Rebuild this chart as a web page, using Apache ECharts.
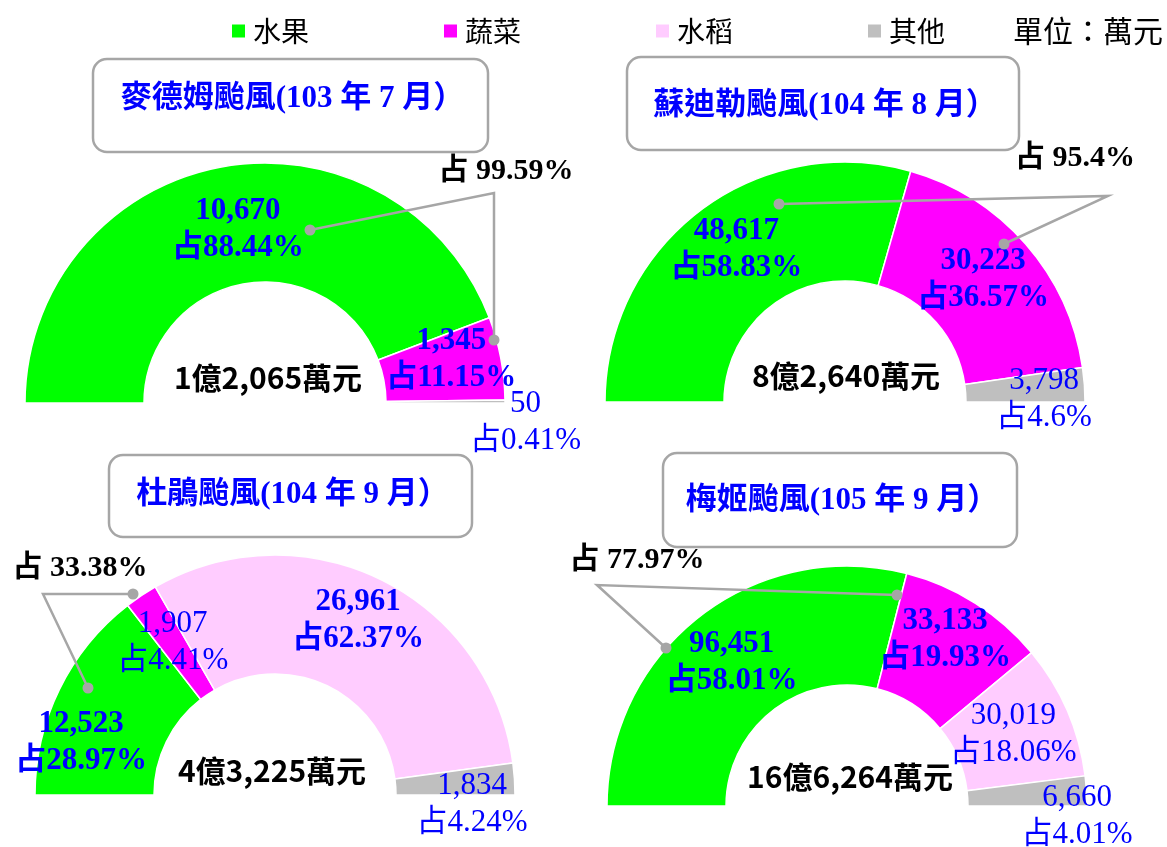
<!DOCTYPE html>
<html>
<head>
<meta charset="utf-8">
<script src="https://cdn.jsdelivr.net/npm/echarts@6/dist/echarts.min.js"></script>
<style>
  html, body { margin: 0; background: #fff; }
  #main { width: 1167px; height: 847px; }
</style>
</head>
<body>
<div id="main"></div>
<script>
// 各颱風農業損失（萬元）
const categories = ['水果', '蔬菜', '水稻', '其他']
const typhoons = ['麥德姆颱風(103 年 7 月）', '蘇迪勒颱風(104 年 8 月）', '杜鵑颱風(104 年 9 月）', '梅姬颱風(105 年 9 月）']
const fruit = [10670, 48617, 12523, 96451]
const veg = [1345, 30223, 1907, 33133]
const rice = [0, 0, 26961, 30019]
const other = [50, 3798, 1834, 6660]
const fruitPct = ['88.44', '58.83', '28.97', '58.01']
const vegPct = ['11.15', '36.57', '4.41', '19.93']
const ricePct = ['', '', '62.37', '18.06']
const otherPct = ['0.41', '4.6', '4.24', '4.01']
const totals = ['1億2,065萬元', '8億2,640萬元', '4億3,225萬元', '16億6,264萬元']
const shares = ['占 99.59%', '占 95.4%', '占 33.38%', '占 77.97%']

const colors = ['#00FF00', '#FF00FF', '#FFCCFF', '#BFBFBF']
const serif = "'Liberation Serif', 'Noto Sans CJK TC', serif"
const cjk = "'Noto Sans CJK TC', sans-serif"

// layout of the four half donuts
const centers = [[265, 403], [845, 402], [275, 795], [847, 806]]
const radius = [121, 240]
// label nudges: [fruit, veg, rice, other]
const labelShift = [
  [[6, 7], [6, -9], null, [77, 21]],
  [[2, -6], [0, -2], null, [16, 11]],
  [[-29, 28], [0, 0], [2, -10], [14, 22]],
  [[-3, 1], [0, -12], [-2, 1], [47, 22]]
]
// bold labels for the big slices
const labelBold = [
  [true, true, false, false],
  [true, true, false, false],
  [true, false, true, false],
  [true, true, false, false]
]
const titleBoxes = [[93, 59, 395, 93, 99], [627, 57, 392, 93, 106], [109, 455, 363, 82, 495], [663, 453, 354, 94, 501]]
const totalPos = [[268, 378], [846, 376], [272, 771], [850, 777]]
const sharePos = [[506, 171], [1075, 158], [80, 568], [637, 560]]
const leaders = [
  [[310, 230], [494, 193], [494, 340]],
  [[779, 204], [1108, 196], [1004, 244]],
  [[133, 594], [43, 594], [88, 688]],
  [[897, 595], [597, 585], [666, 648]]
]

const fmt = v => v.toLocaleString('en-US')

const series = typhoons.map((name, i) => {
  const vals = [fruit[i], veg[i], rice[i], other[i]]
  const pcts = [fruitPct[i], vegPct[i], ricePct[i], otherPct[i]]
  const data = []
  vals.forEach((v, k) => {
    if (!v) return
    data.push({
      name: categories[k],
      value: v,
      pct: pcts[k],
      itemStyle: { color: colors[k] },
      label: {
        offset: labelShift[i][k] || [0, 0],
        fontWeight: labelBold[i][k] ? 'bold' : 'normal'
      }
    })
  })
  return {
    name: name,
    type: 'pie',
    center: centers[i],
    radius: radius,
    startAngle: 180,
    endAngle: 0,
    clockwise: true,
    silent: true,
    animation: false,
    avoidLabelOverlap: false,
    minShowLabelAngle: 0,
    labelLayout: { hideOverlap: false },
    itemStyle: { borderColor: '#fff', borderWidth: 1.5 },
    label: {
      show: true,
      position: 'inside',
      color: '#0000FF',
      fontSize: 31,
      fontFamily: serif,
      lineHeight: 37,
      formatter: p => fmt(p.value) + '\n占' + p.data.pct + '%'
    },
    labelLine: { show: false },
    data: data
  }
})

const graphic = []
typhoons.forEach((name, i) => {
  const b = titleBoxes[i]
  graphic.push({
    type: 'rect', z: 100,
    shape: { x: b[0], y: b[1], width: b[2], height: b[3], r: 14 },
    style: { fill: '#fff', stroke: '#A6A6A6', lineWidth: 2.5 }
  })
  graphic.push({
    type: 'text', z: 101, x: b[0] + b[2] / 2 + 2, y: b[4],
    style: { text: name, fill: '#0000FF', font: 'bold 31px ' + serif, align: 'center', verticalAlign: 'middle' }
  })
  graphic.push({
    type: 'text', z: 101, x: totalPos[i][0], y: totalPos[i][1],
    style: { text: totals[i], fill: '#000', font: 'bold 30px ' + cjk, align: 'center', verticalAlign: 'middle' }
  })
  graphic.push({
    type: 'text', z: 101, x: sharePos[i][0], y: sharePos[i][1],
    style: { text: shares[i], fill: '#000', font: 'bold 30px ' + serif, align: 'center', verticalAlign: 'middle' }
  })
  const pts = leaders[i]
  graphic.push({
    type: 'polyline', z: 100,
    shape: { points: pts },
    style: { stroke: '#A6A6A6', lineWidth: 2.5, fill: null }
  })
  ;[pts[0], pts[pts.length - 1]].forEach(pt => {
    graphic.push({
      type: 'circle', z: 100,
      shape: { cx: pt[0], cy: pt[1], r: 5.5 },
      style: { fill: '#A6A6A6' }
    })
  })
})
graphic.push({
  type: 'text', z: 101, x: 1163, y: 31,
  style: { text: '單位：萬元', fill: '#000', font: '30px ' + cjk, align: 'right', verticalAlign: 'middle' }
})

const chart = echarts.init(document.getElementById('main'))
chart.setOption({
  animation: false,
  color: colors,
  legend: {
    data: categories,
    left: 225,
    top: 12,
    icon: 'rect',
    itemWidth: 15,
    itemHeight: 15,
    itemGap: 133,
    selectedMode: false,
    textStyle: { fontSize: 28, fontFamily: cjk, color: '#000', padding: [0, 0, 0, 2] }
  },
  graphic: graphic,
  series: series
})
</script>
</body>
</html>
